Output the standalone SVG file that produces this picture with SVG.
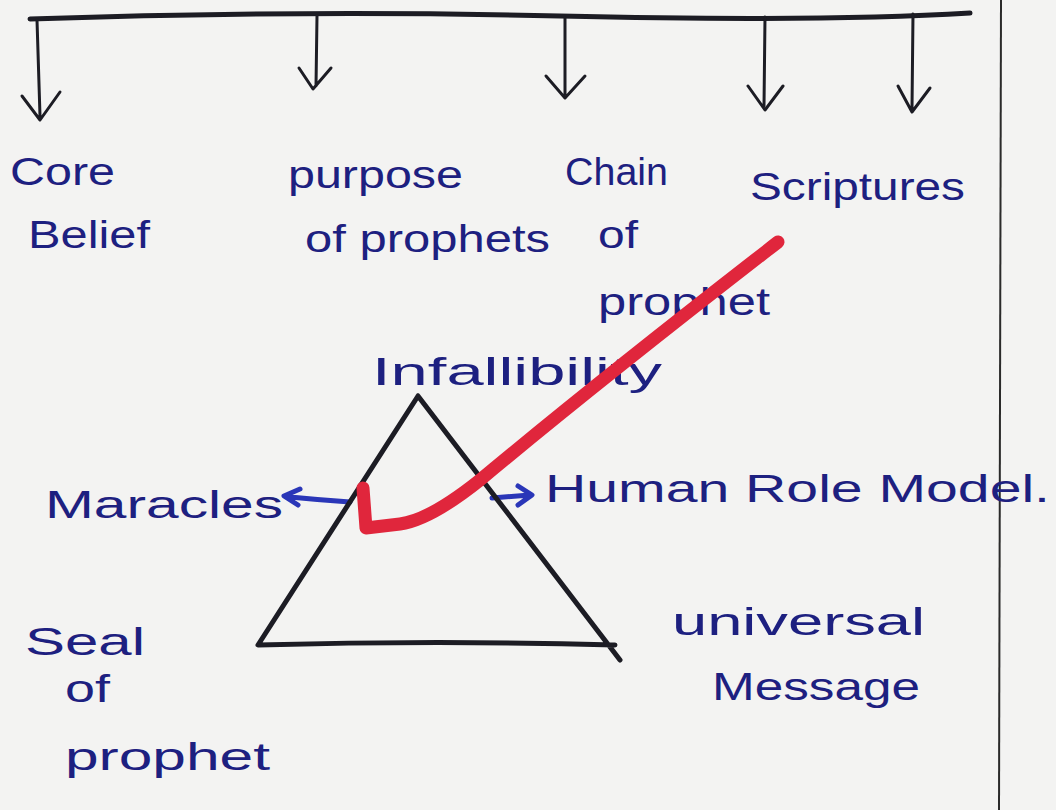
<svg xmlns="http://www.w3.org/2000/svg" width="1056" height="810" viewBox="0 0 1056 810">
<style>
.ink{fill:none;stroke:#1c1c24;stroke-width:5;stroke-linecap:round;stroke-linejoin:round}
.thin{fill:none;stroke:#1c1c24;stroke-width:3;stroke-linecap:round;stroke-linejoin:round}
.blue{fill:none;stroke:#2a36b8;stroke-width:5;stroke-linecap:round;stroke-linejoin:round}
.lbl{font-family:"Liberation Sans",Arial,sans-serif;font-size:38px;fill:#1d2080}
.red{fill:none;stroke:#e0263c;stroke-width:13;stroke-linecap:round;stroke-linejoin:round}
</style>
<rect width="1056" height="810" fill="#f3f3f2"/>
<line x1="1001" y1="0" x2="999" y2="810" stroke="#2a2a2a" stroke-width="2"/>
<g id="connectors">
<path class="ink" d="M30,19 Q300,10 560,16 T970,13"/>
<path class="thin" d="M37,20 L40,116 M22,96 L40,120 L60,92"/>
<path class="thin" d="M317,16 L316,86 M299,68 L313,89 L331,68"/>
<path class="thin" d="M565,18 L565,94 M546,76 L565,98 L585,76"/>
<path class="thin" d="M765,17 L764,106 M748,86 L765,110 L783,86"/>
<path class="thin" d="M913,14 L912,108 M898,86 L912,112 L930,88"/>
<path class="blue" d="M350,502 Q320,500 290,497 M300,489 L284,496 L298,505"/>
<path class="blue" d="M492,498 L530,495 M518,486 L532,495 L518,505"/>
</g>
<g id="triangle">
<path class="ink" d="M418,396 L258,645 Q440,640 615,645 M418,396 L620,660"/>
</g>
<g id="n-core"><text class="lbl" x="10" y="185" textLength="105" lengthAdjust="spacingAndGlyphs">Core</text><text class="lbl" x="28" y="248" textLength="122" lengthAdjust="spacingAndGlyphs">Belief</text></g>
<g id="n-purpose"><text class="lbl" x="288" y="188" textLength="175" lengthAdjust="spacingAndGlyphs">purpose</text><text class="lbl" x="305" y="252" textLength="245" lengthAdjust="spacingAndGlyphs">of prophets</text></g>
<g id="n-chain"><text class="lbl" x="565" y="185" textLength="103" lengthAdjust="spacingAndGlyphs">Chain</text><text class="lbl" x="598" y="248" textLength="40" lengthAdjust="spacingAndGlyphs">of</text><text class="lbl" x="598" y="315" textLength="172" lengthAdjust="spacingAndGlyphs">prophet</text></g>
<g id="n-scriptures"><text class="lbl" x="750" y="200" textLength="215" lengthAdjust="spacingAndGlyphs">Scriptures</text></g>
<g id="n-infallibility"><text class="lbl" x="372" y="385" textLength="290" lengthAdjust="spacingAndGlyphs">Infallibility</text></g>
<g id="n-maracles"><text class="lbl" x="45" y="518" textLength="238" lengthAdjust="spacingAndGlyphs">Maracles</text></g>
<g id="n-human"><text class="lbl" x="545" y="502" textLength="505" lengthAdjust="spacingAndGlyphs">Human Role Model.</text></g>
<g id="n-seal"><text class="lbl" x="25" y="655" textLength="120" lengthAdjust="spacingAndGlyphs">Seal</text><text class="lbl" x="65" y="702" textLength="45" lengthAdjust="spacingAndGlyphs">of</text><text class="lbl" x="65" y="770" textLength="205" lengthAdjust="spacingAndGlyphs">prophet</text></g>
<g id="n-universal"><text class="lbl" x="672" y="635" textLength="253" lengthAdjust="spacingAndGlyphs">universal</text><text class="lbl" x="712" y="700" textLength="208" lengthAdjust="spacingAndGlyphs">Message</text></g>
<g id="checkmark">
<path class="red" d="M778,242 Q600,380 480,480 Q430,520 400,524 L366,528 L363,488"/>
</g>
</svg>
